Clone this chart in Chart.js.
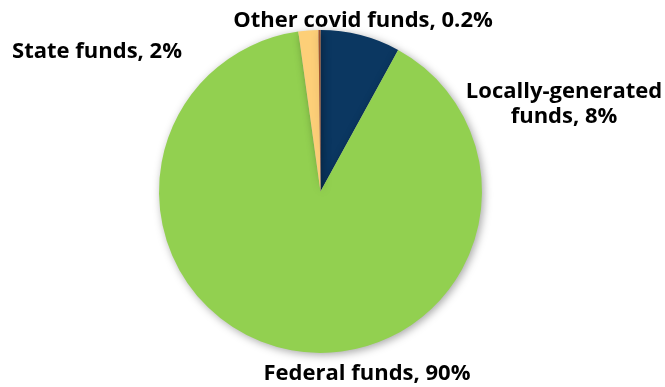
<!DOCTYPE html>
<html>
<head>
  <meta charset="UTF-8" />
  <title>Funding Sources</title>
  <script src="https://cdn.jsdelivr.net/npm/chart.js"></script>
  <style>
    html, body { margin: 0; padding: 0; background: #fff; }
    #wrap { width: 665px; height: 387px; }
  </style>
</head>
<body>
  <div id="wrap"><canvas id="FundsChart"></canvas></div>

  <script>
    // Funding sources, clockwise from 12 o'clock
    const sources = ['Locally-generated funds', 'Federal funds', 'State funds', 'Other covid funds'];
    const shares = [8, 90, 2, 0.2];
    const shareLabels = ['8%', '90%', '2%', '0.2%'];
    const colors = ['#0b3761', '#92d050', '#fdcf78', '#a0522d'];

    // label text lines and where each sits (center x, first baseline y)
    const labelLayout = [
      { lines: ['Locally-generated', 'funds, ' + shareLabels[0]], x: 564, y: 98 },
      { lines: ['Federal funds, ' + shareLabels[1]], x: 367, y: 380 },
      { lines: ['State funds, ' + shareLabels[2]], x: 97, y: 58 },
      { lines: ['Other covid funds, ' + shareLabels[3]], x: 363, y: 27 },
    ];

    const shadowPlugin = {
      id: 'pieShadow',
      beforeDatasetsDraw(chart) {
        const ctx = chart.ctx;
        ctx.save();
        ctx.shadowColor = 'rgba(0,0,0,0.35)';
        ctx.shadowBlur = 9;
        ctx.shadowOffsetX = 2;
        ctx.shadowOffsetY = 2;
      },
      afterDatasetsDraw(chart) {
        chart.ctx.restore();
      }
    };

    const labelPlugin = {
      id: 'sliceLabels',
      afterDatasetsDraw(chart) {
        const ctx = chart.ctx;
        ctx.save();
        ctx.font = 'bold 22px "Open Sans"';
        ctx.fillStyle = '#000';
        ctx.textAlign = 'center';
        ctx.textBaseline = 'alphabetic';
        labelLayout.forEach(l => {
          l.lines.forEach((t, i) => ctx.fillText(t, l.x, l.y + i * 25));
        });
        ctx.restore();
      }
    };

    const ctx = document.getElementById('FundsChart').getContext('2d');
    new Chart(ctx, {
      type: 'pie',
      data: {
        labels: sources,
        datasets: [{
          data: shares,
          backgroundColor: colors,
          borderWidth: 0,
        }]
      },
      options: {
        responsive: true,
        maintainAspectRatio: false,
        animation: false,
        layout: { padding: { top: 30, bottom: 34, left: 0, right: 24 } },
        plugins: {
          legend: { display: false },
          tooltip: { enabled: false },
        }
      },
      plugins: [shadowPlugin, labelPlugin]
    });
  </script>
</body>
</html>
